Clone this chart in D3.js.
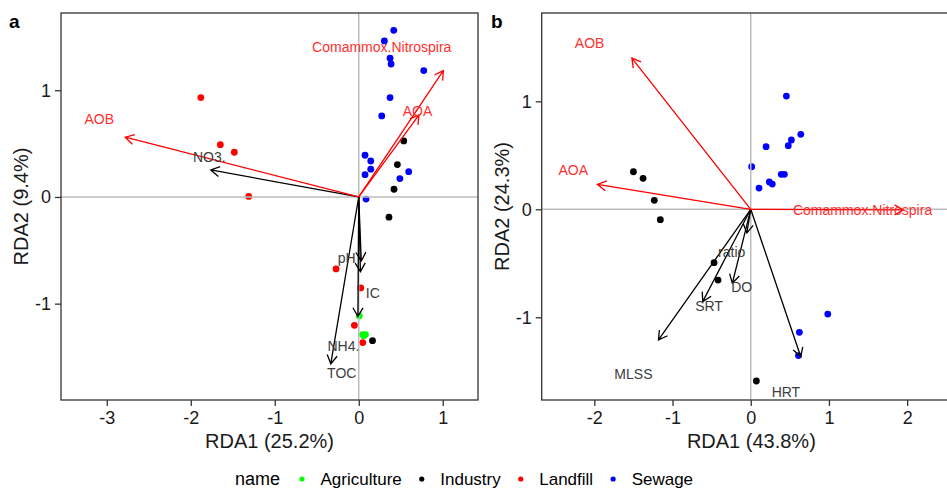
<!DOCTYPE html>
<html>
<head>
<meta charset="utf-8">
<script src="https://cdn.jsdelivr.net/npm/d3@7"></script>
<style>
  body { margin: 0; background: #fff; }
  svg text { font-family: "Liberation Sans", Arial, sans-serif; }
</style>
</head>
<body>
<div id="chart"></div>
<script>
// groups and their colours
var groups = ["Agriculture", "Industry", "Landfill", "Sewage"];
var groupColors = ["#00ff00", "#000000", "#ff0000", "#0000ff"];

// panel a: site scores (group, RDA1, RDA2)
var sitesA = [
	["Sewage", 0.417, 1.562], ["Sewage", 0.305, 1.462], ["Sewage", 0.373, 1.30],
	["Sewage", 0.385, 1.246], ["Sewage", 0.774, 1.184], ["Sewage", 0.373, 0.931],
	["Sewage", 0.274, 0.759], ["Sewage", 0.075, 0.391], ["Sewage", 0.143, 0.337],
	["Sewage", 0.075, 0.209], ["Sewage", 0.143, 0.26], ["Sewage", 0.595, 0.237],
	["Sewage", 0.49, 0.172], ["Sewage", 0.087, -0.02],
	["Industry", 0.536, 0.525], ["Industry", 0.46, 0.303], ["Industry", 0.42, 0.072],
	["Industry", 0.36, -0.19], ["Industry", 0.164, -1.347],
	["Landfill", -1.88, 0.931], ["Landfill", -1.648, 0.49], ["Landfill", -1.481, 0.419],
	["Landfill", -1.31, 0.005], ["Landfill", -0.27, -0.675], ["Landfill", 0.024, -0.853],
	["Landfill", -0.052, -1.203], ["Landfill", 0.048, -1.365],
	["Agriculture", 0.007, -1.115], ["Agriculture", 0.045, -1.29],
	["Agriculture", 0.08, -1.29], ["Agriculture", 0.06, -1.30]
];
// panel a: species arrows (name, tip x, tip y, label x, label y)
var speciesA = [
	["AOB", -2.78, 0.56, -3.09, 0.73],
	["Comammox.Nitrospira", 1.007, 1.184, 0.274, 1.40],
	["AOA", 0.718, 0.769, 0.70, 0.80]
];
// panel a: environment arrows
var envA = [
	["NO3.", -1.762, 0.253, -1.78, 0.378],
	["pH", 0.03, -0.60, -0.143, -0.575],
	["IC", 0.02, -0.70, 0.167, -0.903],
	["NH4.", -0.01, -1.12, -0.183, -1.397],
	["TOC", -0.333, -1.565, -0.202, -1.647]
];

// panel b: site scores
var sitesB = [
	["Sewage", 0.456, 1.049], ["Sewage", 0.64, 0.694], ["Sewage", 0.52, 0.642],
	["Sewage", 0.48, 0.589], ["Sewage", 0.196, 0.58], ["Sewage", 0.012, 0.394],
	["Sewage", 0.39, 0.324], ["Sewage", 0.43, 0.324], ["Sewage", 0.238, 0.253],
	["Sewage", 0.276, 0.234], ["Sewage", 0.106, 0.197],
	["Sewage", 0.622, -1.139], ["Sewage", 0.985, -0.97], ["Sewage", 0.61, -1.355],
	["Industry", -1.50, 0.348], ["Industry", -1.377, 0.287], ["Industry", -1.233, 0.083],
	["Industry", -1.156, -0.096], ["Industry", -0.469, -0.494], ["Industry", -0.418, -0.655],
	["Industry", 0.072, -1.59]
];
var speciesB = [
	["AOB", -1.52, 1.40, -2.06, 1.54],
	["AOA", -1.96, 0.23, -2.27, 0.364],
	["Comammox.Nitrospira", 1.95, -0.006, 1.43, -0.01]
];
var envB = [
	["MLSS", -1.18, -1.21, -1.50, -1.53],
	["SRT", -0.614, -0.855, -0.533, -0.90],
	["DO", -0.235, -0.685, -0.115, -0.72],
	["ratio", -0.05, -0.22, -0.243, -0.40],
	["HRT", 0.64, -1.365, 0.45, -1.69]
];

// axis settings
var xTicksA = [-3, -2, -1, 0, 1];
var yTicksA = [-1, 0, 1];
var xTicksB = [-2, -1, 0, 1, 2];
var yTicksB = [-1, 0, 1];
var xTitleA = "RDA1 (25.2%)", yTitleA = "RDA2 (9.4%)";
var xTitleB = "RDA1 (43.8%)", yTitleB = "RDA2 (24.3%)";

var W = 947, H = 489;
var color = d3.scaleOrdinal().domain(groups).range(groupColors);

var svg = d3.select("#chart").append("svg")
	.attr("width", W)
	.attr("height", H);

var drawPanel = function(opt) {
	var x = d3.scaleLinear().domain(opt.xDom).range([opt.left, opt.right]);
	var y = d3.scaleLinear().domain(opt.yDom).range([opt.bottom, opt.top]);
	var g = svg.append("g");

	g.append("clipPath").attr("id", "clip" + opt.tag)
		.append("rect")
		.attr("x", opt.left).attr("y", opt.top)
		.attr("width", opt.right - opt.left).attr("height", opt.bottom - opt.top);

	var plot = g.append("g").attr("clip-path", "url(#clip" + opt.tag + ")");

	// points
	plot.selectAll("circle.site").data(opt.sites).enter().append("circle")
		.attr("class", "site")
		.attr("cx", function(d) { return x(d[1]); })
		.attr("cy", function(d) { return y(d[2]); })
		.attr("r", 3.4)
		.attr("fill", function(d) { return color(d[0]); });

	// zero lines
	plot.append("line")
		.attr("x1", x(0)).attr("x2", x(0))
		.attr("y1", opt.top).attr("y2", opt.bottom)
		.attr("stroke", "#bdbdbd").attr("stroke-width", 1.5);
	plot.append("line")
		.attr("x1", opt.left).attr("x2", opt.right)
		.attr("y1", y(0)).attr("y2", y(0))
		.attr("stroke", "#bdbdbd").attr("stroke-width", 1.5);

	var arrows = function(list, col) {
		list.forEach(function(d) {
			var x0 = x(0), y0 = y(0), x1 = x(d[1]), y1 = y(d[2]);
			var ang = Math.atan2(y1 - y0, x1 - x0);
			var len = 10, spread = Math.PI / 6;
			var h1 = [x1 - len * Math.cos(ang - spread), y1 - len * Math.sin(ang - spread)];
			var h2 = [x1 - len * Math.cos(ang + spread), y1 - len * Math.sin(ang + spread)];
			plot.append("path")
				.attr("d", "M" + x0 + "," + y0 + "L" + x1 + "," + y1 +
					"M" + h1[0] + "," + h1[1] + "L" + x1 + "," + y1 + "L" + h2[0] + "," + h2[1])
				.attr("stroke", col)
				.attr("stroke-width", 1.3)
				.attr("fill", "none");
		});
	};
	arrows(opt.env, "#000");
	arrows(opt.species, "#ff0000");

	var labels = function(list, col) {
		plot.selectAll(null).data(list).enter().append("text")
			.attr("x", function(d) { return x(d[3]); })
			.attr("y", function(d) { return y(d[4]); })
			.attr("dy", "0.35em")
			.attr("text-anchor", "middle")
			.attr("font-size", "14px")
			.attr("fill", col)
			.text(function(d) { return d[0]; });
	};
	labels(opt.env, "#3d3d3d");
	labels(opt.species, "#ff3030");

	// border
	g.append("rect")
		.attr("x", opt.left).attr("y", opt.top)
		.attr("width", opt.right - opt.left).attr("height", opt.bottom - opt.top)
		.attr("fill", "none").attr("stroke", "#333").attr("stroke-width", 1.3);

	// axes
	var xAxis = g.append("g")
		.attr("transform", "translate(0," + opt.bottom + ")")
		.call(d3.axisBottom(x).tickValues(opt.xTicks).tickSize(6).tickPadding(5)
			.tickFormat(d3.format("d")));
	var yAxis = g.append("g")
		.attr("transform", "translate(" + opt.left + ",0)")
		.call(d3.axisLeft(y).tickValues(opt.yTicks).tickSize(6).tickPadding(4)
			.tickFormat(d3.format("d")));
	[xAxis, yAxis].forEach(function(a) {
		a.select(".domain").remove();
		a.selectAll(".tick line").attr("stroke", "#333").attr("stroke-width", 1.3);
		a.selectAll(".tick text").attr("font-size", "18px").attr("fill", "#1a1a1a")
			.attr("font-family", "Liberation Sans, Arial, sans-serif");
	});
	// ggplot-style minus sign is a hyphen
	g.selectAll(".tick text").text(function(d) { return String(d); });

	g.append("text")
		.attr("x", (opt.left + Math.min(opt.right, W + 8)) / 2 + opt.titleShift)
		.attr("y", 448)
		.attr("text-anchor", "middle")
		.attr("font-size", "20px")
		.attr("fill", "#1a1a1a")
		.text(opt.xTitle);
	g.append("text")
		.attr("transform", "translate(" + opt.yTitleX + "," + ((opt.top + opt.bottom) / 2) + ") rotate(-90)")
		.attr("text-anchor", "middle")
		.attr("font-size", "20px")
		.attr("fill", "#1a1a1a")
		.text(opt.yTitle);
	g.append("text")
		.attr("x", opt.tagX).attr("y", 28)
		.attr("font-size", "19px")
		.attr("font-weight", "bold")
		.attr("fill", "#000")
		.text(opt.tag);
};

drawPanel({
	tag: "a", tagX: 9, left: 61, right: 478, top: 13, bottom: 400,
	xDom: [-3.545, 1.42], yDom: [-1.903, 1.724],
	sites: sitesA, species: speciesA, env: envA,
	xTicks: xTicksA, yTicks: yTicksA, xTitle: xTitleA, yTitle: yTitleA,
	yTitleX: 28, titleShift: 0
});
drawPanel({
	tag: "b", tagX: 491, left: 541.7, right: 960, top: 13, bottom: 400,
	xDom: [-2.673, 2.676], yDom: [-1.766, 1.818],
	sites: sitesB, species: speciesB, env: envB,
	xTicks: xTicksB, yTicks: yTicksB, xTitle: xTitleB, yTitle: yTitleB,
	yTitleX: 509, titleShift: 3
});

// legend
var legend = svg.append("g");
legend.append("text")
	.attr("x", 235).attr("y", 485)
	.attr("font-size", "18px")
	.attr("fill", "#000")
	.text("name");
var lx = 302;
groups.forEach(function(name) {
	legend.append("circle")
		.attr("cx", lx).attr("cy", 479)
		.attr("r", 2.6)
		.attr("fill", color(name));
	var t = legend.append("text")
		.attr("x", lx + 18.5).attr("y", 485)
		.attr("font-size", "17px")
		.attr("fill", "#000")
		.text(name);
	lx = lx + 18.5 + t.node().getComputedTextLength() + 20;
});
</script>
</body>
</html>
